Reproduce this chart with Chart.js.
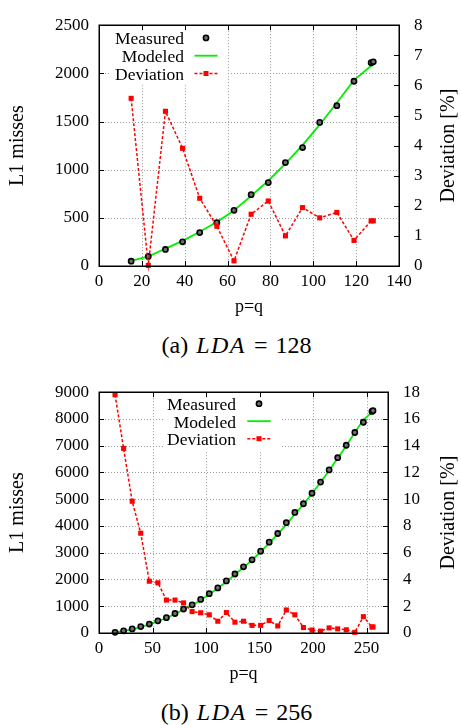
<!DOCTYPE html>
<html><head><meta charset="utf-8">
<script src="https://cdn.jsdelivr.net/npm/chart.js@4"></script>
<style>
html,body{margin:0;padding:0;background:#fff;width:461px;height:725px;overflow:hidden;}
.wrap{position:absolute;left:0;width:461px;height:325px;}
canvas{display:block;}
.cap{position:absolute;left:0;width:473px;text-align:center;font-family:"Liberation Serif",serif;font-size:24px;line-height:28px;color:#000;white-space:nowrap;}
.cap i{letter-spacing:1.5px;margin-left:8px;margin-right:8px;}
.cap .eq{margin-right:8px;}
</style></head><body>
<div class="wrap" style="top:0px"><canvas id="c1" width="461" height="325"></canvas></div>
<div class="cap" style="top:331px">(a)<i>LDA</i><span class="eq">=</span>128</div>
<div class="wrap" style="top:367px"><canvas id="c2" width="461" height="325"></canvas></div>
<div class="cap" style="top:698px">(b)<i>LDA</i><span class="eq">=</span>256</div>
<script>
// ---------- data ----------
const seriesNames = ['Measured', 'Modeled', 'Deviation'];
const xTitle = 'p=q';
const yTitle = 'L1 misses';
const y2Title = 'Deviation [%]';

// (a) LDA = 128
const pA = [15,23,31,39,47,55,63,71,79,87,95,103,111,119,127,128];
const measuredA = [50,99,172,251,347,450,578,741,866,1074,1230,1491,1664,1918,2110,2120];
const modeledA = [53,99,181,261,355,456,577,728,885,1063,1255,1467,1695,1930,2078,2088];
const deviationA = [5.57,0.02,5.14,3.91,2.25,1.32,0.17,1.72,2.16,1.0,1.94,1.6,1.78,0.85,1.5,1.5];
const xTicksA = [0,20,40,60,80,100,120,140];
const yTicksA = [0,500,1000,1500,2000,2500];
const y2TicksA = [0,1,2,3,4,5,6,7,8];
const xRangeA = [0,140];

// (b) LDA = 256
const pB = [15,23,31,39,47,55,63,71,79,87,95,103,111,119,127,135,143,151,159,167,175,183,191,199,207,215,223,231,239,247,255,256];
const measuredB = [25,82,154,240,334,455,574,729,896,1052,1255,1470,1685,1948,2205,2474,2736,3059,3395,3718,4123,4507,4830,5224,5640,6095,6551,7017,7494,7877,8280,8310];
const modeledB = [29,72,140,222,321,438,560,711,876,1035,1236,1450,1670,1918,2187,2452,2720,3042,3363,3698,4052,4446,4810,5212,5632,6072,6531,7000,7490,7970,8245,8275];
const deviationB = [17.81,13.8,9.85,7.46,3.87,3.75,2.46,2.46,2.25,1.6,1.51,1.36,0.88,1.53,0.81,0.88,0.57,0.57,0.93,0.53,1.72,1.36,0.41,0.22,0.14,0.38,0.31,0.24,0.05,1.22,0.45,0.45];
const xTicksB = [0,50,100,150,200,250];
const yTicksB = [0,1000,2000,3000,4000,5000,6000,7000,8000,9000];
const y2TicksB = [0,2,4,6,8,10,12,14,16,18];
const xRangeB = [0,270];

// ---------- drawing ----------
const FONT = "'Liberation Serif', serif";
Chart.defaults.font.family = FONT;

const gnuplotPlugin = {
  id: 'gp',
  beforeDatasetsDraw(chart, args, o) {
    const {ctx, chartArea: a, scales} = chart;
    ctx.save();
    ctx.strokeStyle = '#9a9a9a'; ctx.lineWidth = 1; ctx.setLineDash([1, 2]);
    ctx.beginPath();
    scales.x.ticks.forEach(t => {
      if (t.value <= scales.x.min || t.value >= scales.x.max) return;
      const px = Math.round(scales.x.getPixelForValue(t.value)) + 0.5;
      ctx.moveTo(px, a.top); ctx.lineTo(px, a.bottom);
    });
    scales.y.ticks.forEach(t => {
      if (t.value <= scales.y.min || t.value >= scales.y.max) return;
      const py = Math.round(scales.y.getPixelForValue(t.value)) + 0.5;
      ctx.moveTo(a.left, py); ctx.lineTo(a.right, py);
    });
    ctx.stroke();
    ctx.setLineDash([]);
    const L = o.legend;
    ctx.fillStyle = '#fff';
    ctx.fillRect(a.left + L.boxL, a.top + 1, L.boxR - L.boxL, L.boxH);
    ctx.restore();
  },
  afterDraw(chart, args, o) {
    const {ctx, chartArea: a, scales} = chart;
    const L = o.legend;
    ctx.save();
    ctx.font = L.fontSize + "px 'Liberation Serif', serif";
    ctx.fillStyle = '#000'; ctx.textAlign = 'right'; ctx.textBaseline = 'alphabetic';
    const ds = chart.data.datasets;
    for (let i = 0; i < 3; i++) {
      const by = a.top + L.base0 + i * L.step;
      ctx.fillText(ds[i].label, a.left + L.textR, by);
      const sy = by - L.symOff;
      const cx = a.left + L.symX;
      if (i === 0) {
        ctx.beginPath(); ctx.arc(cx, sy, 2.6, 0, Math.PI * 2);
        ctx.fillStyle = '#707070'; ctx.fill();
        ctx.lineWidth = 1.6; ctx.strokeStyle = '#000'; ctx.stroke();
        ctx.fillStyle = '#000';
      } else if (i === 1) {
        ctx.beginPath(); ctx.moveTo(cx - L.symW, sy); ctx.lineTo(cx + L.symW, sy);
        ctx.lineWidth = 1.8; ctx.strokeStyle = ds[1].borderColor; ctx.stroke();
      } else {
        ctx.beginPath(); ctx.moveTo(cx - L.symW, sy); ctx.lineTo(cx + L.symW, sy);
        ctx.setLineDash([3, 2]); ctx.lineWidth = 1.5; ctx.strokeStyle = ds[2].borderColor; ctx.stroke();
        ctx.setLineDash([]);
        ctx.fillStyle = ds[2].borderColor; ctx.fillRect(cx - 2.5, sy - 2.5, 5, 5);
        ctx.fillStyle = '#000';
      }
    }
    ctx.strokeStyle = '#000'; ctx.lineWidth = 1; ctx.beginPath();
    const tl = 5;
    scales.x.ticks.forEach(t => {
      const px = Math.round(scales.x.getPixelForValue(t.value)) + 0.5;
      ctx.moveTo(px, a.bottom); ctx.lineTo(px, a.bottom - tl);
      ctx.moveTo(px, a.top); ctx.lineTo(px, a.top + tl);
    });
    scales.y.ticks.forEach(t => {
      const py = Math.round(scales.y.getPixelForValue(t.value)) + 0.5;
      ctx.moveTo(a.left, py); ctx.lineTo(a.left + tl, py);
    });
    scales.y2.ticks.forEach(t => {
      const py = Math.round(scales.y2.getPixelForValue(t.value)) + 0.5;
      ctx.moveTo(a.right, py); ctx.lineTo(a.right - tl, py);
    });
    ctx.stroke();
    ctx.lineWidth = 1.5;
    ctx.strokeRect(Math.round(a.left) + 0.25, Math.round(a.top) + 0.25, Math.round(a.width), Math.round(a.height));
    ctx.translate(o.y2TitleX, (a.top + a.bottom) / 2);
    ctx.rotate(-Math.PI / 2);
    ctx.font = "20px 'Liberation Serif', serif"; ctx.textAlign = 'center'; ctx.textBaseline = 'middle';
    ctx.fillStyle = '#000';
    ctx.fillText(y2Title, 0, 0);
    ctx.restore();
  }
};

function tickSetter(arr) {
  return function (scale) { scale.ticks = arr.map(v => ({value: v})); };
}
const plain = v => String(v);

function makeChart(id, c) {
  const pts = (ys) => c.p.map((p, i) => ({x: p, y: ys[i]}));
  return new Chart(document.getElementById(id), {
    type: 'line',
    data: {
      datasets: [
        {label: seriesNames[0], data: pts(c.measured), yAxisID: 'y', showLine: false,
         pointStyle: 'circle', pointRadius: 2.6, pointBorderWidth: 1.6,
         pointBackgroundColor: '#707070', pointBorderColor: '#000', borderColor: '#000',
         order: 1, clip: false},
        {label: seriesNames[1], data: pts(c.modeled), yAxisID: 'y', borderColor: '#00ee00',
         borderWidth: 1.8, pointRadius: 0, tension: 0, fill: false, order: 2, clip: false},
        {label: seriesNames[2], data: pts(c.deviation), yAxisID: 'y2', borderColor: '#ff0000',
         borderWidth: 1.5, borderDash: [3, 2], pointStyle: 'rect', pointRadius: 3.6,
         pointBackgroundColor: '#ff0000', pointBorderColor: '#ff0000', pointBorderWidth: 0,
         tension: 0, fill: false, order: 0, clip: false}
      ]
    },
    options: {
      responsive: false, animation: false, events: [],
      layout: {padding: {top: c.padTop, left: 0, right: 0, bottom: 0}},
      plugins: {legend: {display: false}, tooltip: {enabled: false},
        gp: {legend: c.legend, y2TitleX: 449}},
      scales: {
        x: {type: 'linear', position: 'bottom', min: c.xRange[0], max: c.xRange[1],
          afterBuildTicks: tickSetter(c.xTicks),
          afterFit: s => { s.height = 59; },
          grid: {display: false, drawTicks: false}, border: {display: false},
          ticks: {font: {family: FONT, size: 17}, color: '#000', padding: 5, maxRotation: 0, autoSkip: false, callback: plain},
          title: {display: true, text: xTitle, font: {family: FONT, size: 18}, color: '#000', padding: {top: 4, bottom: 7}}},
        y: {type: 'linear', position: 'left', min: c.yTicks[0], max: c.yTicks[c.yTicks.length - 1],
          afterBuildTicks: tickSetter(c.yTicks),
          afterFit: s => { s.width = 99; },
          grid: {display: false, drawTicks: false}, border: {display: false},
          ticks: {font: {family: FONT, size: 17}, color: '#000', padding: 10, autoSkip: false, callback: plain},
          title: {display: true, text: yTitle, font: {family: FONT, size: 20}, color: '#000', padding: {top: 6, bottom: 0}}},
        y2: {type: 'linear', position: 'right', min: c.y2Ticks[0], max: c.y2Ticks[c.y2Ticks.length - 1],
          afterBuildTicks: tickSetter(c.y2Ticks),
          afterFit: s => { s.width = c.y2Width; },
          grid: {display: false, drawTicks: false}, border: {display: false},
          ticks: {font: {family: FONT, size: 17}, color: '#000', padding: 15, autoSkip: false, callback: plain}}
      }
    },
    plugins: [gnuplotPlugin]
  });
}

function build() {
  makeChart('c1', {p: pA, measured: measuredA, modeled: modeledA, deviation: deviationA,
    xTicks: xTicksA, yTicks: yTicksA, y2Ticks: y2TicksA, xRange: xRangeA, padTop: 14, y2Width: 62,
    legend: {boxL: 12, boxR: 128, boxH: 57, textR: 85, base0: 18.7, step: 17.8, symX: 107, symW: 11.5, symOff: 6, fontSize: 17.5}});
  makeChart('c2', {p: pB, measured: measuredB, modeled: modeledB, deviation: deviationB,
    xTicks: xTicksB, yTicks: yTicksB, y2Ticks: y2TicksB, xRange: xRangeB, padTop: 15, y2Width: 73,
    legend: {boxL: 64, boxR: 181, boxH: 57, textR: 137, base0: 18, step: 17.5, symX: 160, symW: 11.7, symOff: 6.5, fontSize: 17.5}});
}
const loads = [17, 17.5, 18, 20].map(s => document.fonts.load(s + "px 'Liberation Serif'"));
Promise.all(loads).then(build, build);
</script>
</body></html>
